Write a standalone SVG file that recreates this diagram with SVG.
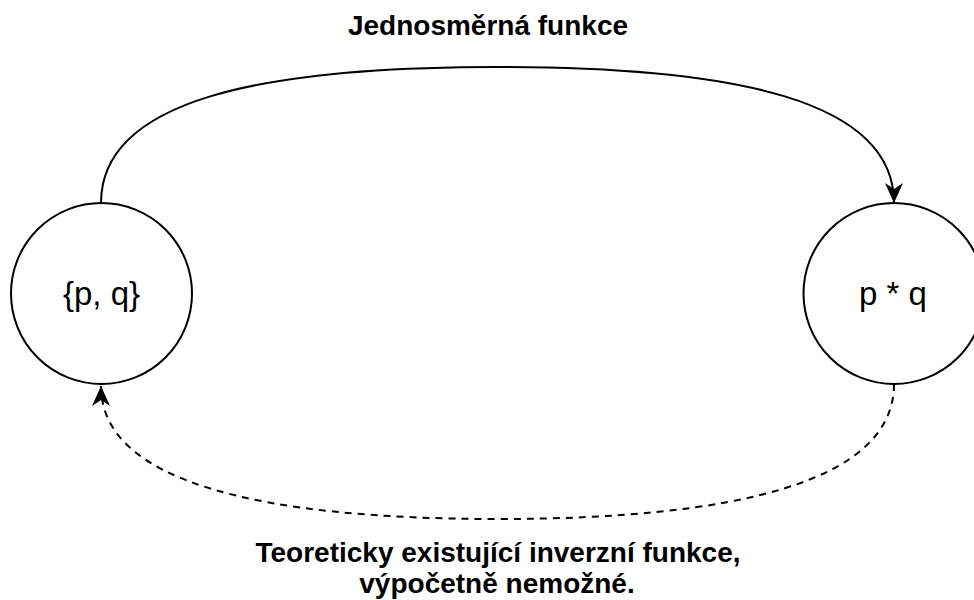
<svg xmlns="http://www.w3.org/2000/svg" width="974" height="600" viewBox="0 0 974 600">
  <style>
    .node { fill: #ffffff; stroke: #000000; stroke-width: 2; }
    .nodeText { font-family: "Liberation Sans", Helvetica, Arial, sans-serif; font-size: 33px; fill: #000000; text-anchor: middle; }
    .label { font-family: "Liberation Sans", Helvetica, Arial, sans-serif; font-size: 28px; font-weight: bold; fill: #000000; text-anchor: middle; }
    .edge { fill: none; stroke: #000000; stroke-width: 2; }
    .dashed { stroke-dasharray: 7 6; }
  </style>
  <defs>
    <marker id="arrow" markerUnits="userSpaceOnUse" viewBox="-22 -11 24 22" refX="0" refY="0" markerWidth="24" markerHeight="22" orient="auto" overflow="visible">
      <path d="M0,0 L-20,-9 L-14,0 L-20,9 Z" fill="#000000" stroke="none"/>
    </marker>
  </defs>

  <rect width="974" height="600" fill="#ffffff"/>

  <!-- connectors -->
  <g id="edges">
    <g id="edge-forward">
      <path class="edge" d="M101,203 C101,100 260,67 497.5,67 C735,67 894,100 894,203" marker-end="url(#arrow)"/>
      <text class="label" x="488" y="35">Jednosměrná funkce</text>
    </g>
    <g id="edge-inverse">
      <path class="edge dashed" d="M894,384 C894,482 735,519 497.5,519 C260,519 101,482 101,386" marker-end="url(#arrow)"/>
      <text class="label" x="498" y="562">Teoreticky existující inverzní funkce,</text>
      <text class="label" x="497" y="593">výpočetně nemožné.</text>
    </g>
  </g>

  <!-- nodes -->
  <g id="node-pq-set">
    <circle class="node" cx="101.5" cy="293.5" r="90.5"/>
    <text class="nodeText" x="101.5" y="305">{p, q}</text>
  </g>
  <g id="node-product">
    <circle class="node" cx="894" cy="293.5" r="90.5"/>
    <text class="nodeText" x="893" y="305">p * q</text>
  </g>
</svg>
